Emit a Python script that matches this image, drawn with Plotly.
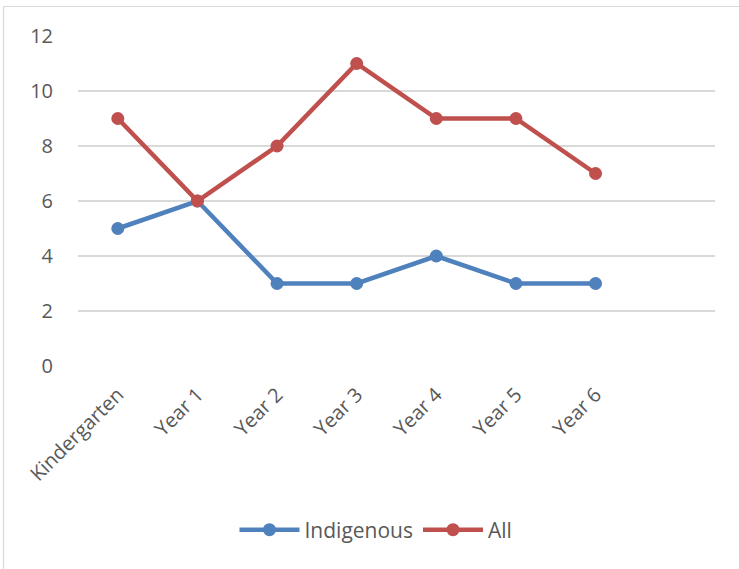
import plotly.graph_objects as go

# Grade levels and the two series plotted against them
grades = ["Kindergarten", "Year 1", "Year 2", "Year 3", "Year 4", "Year 5", "Year 6"]
indigenous = [5, 6, 3, 3, 4, 3, 3]
all_students = [9, 6, 8, 11, 9, 9, 7]
y_ticks = [0, 2, 4, 6, 8, 10, 12]

BLUE = "#4F81BD"
RED = "#C0504D"
GRID = "#D9D9D9"
TEXT = "#595959"

W, H = 739, 569
L, R, T, B = 78, 24, 36, 203
pw, ph = W - L - R, H - T - B


def px_to_paper(px, py):
    return (px - L) / pw, (H - B - py) / ph


fig = go.Figure()
fig.add_trace(go.Scatter(
    x=list(range(len(grades))), y=indigenous, name="Indigenous",
    mode="lines+markers",
    line=dict(color=BLUE, width=4.5),
    marker=dict(color=BLUE, size=13),
))
fig.add_trace(go.Scatter(
    x=list(range(len(grades))), y=all_students, name="All",
    mode="lines+markers",
    line=dict(color=RED, width=4.5),
    marker=dict(color=RED, size=13),
))

# Outer chart frame
x0, y0 = px_to_paper(3.5, 6.5)
x1, y1 = px_to_paper(760, 590)
fig.add_shape(type="rect", xref="paper", yref="paper",
              x0=x0, y0=y1, x1=x1, y1=y0,
              line=dict(color="#D9D9D9", width=1.2), fillcolor="rgba(0,0,0,0)",
              layer="below")

fig.update_layout(
    width=W, height=H,
    margin=dict(l=L, r=R, t=T, b=B),
    paper_bgcolor="white", plot_bgcolor="white",
    font=dict(family="Open Sans", size=19, color=TEXT),
    showlegend=True,
    legend=dict(orientation="h", x=px_to_paper(376, 0)[0], xanchor="center",
                y=px_to_paper(0, 530)[1], yanchor="middle",
                font=dict(family="Open Sans", size=21, color=TEXT),
                itemwidth=60, tracegroupgap=0),
)
fig.update_xaxes(
    range=[-0.5, 7.5],
    tickmode="array", tickvals=list(range(len(grades))), ticktext=grades,
    tickfont=dict(family="Open Sans", size=20, color=TEXT),
    tickangle=-45, showgrid=False, zeroline=False, showline=False,
    ticks="outside", ticklen=8, tickcolor="rgba(0,0,0,0)",
    fixedrange=True,
)
fig.update_yaxes(
    range=[0, 12], tickmode="array", tickvals=y_ticks,
    tickfont=dict(family="Open Sans", size=20, color=TEXT),
    showgrid=True, gridcolor=GRID, gridwidth=1.5,
    zeroline=False, showline=False,
    ticks="outside", ticklen=20, tickcolor="rgba(0,0,0,0)",
    fixedrange=True,
)

fig.write_html("out.html")
